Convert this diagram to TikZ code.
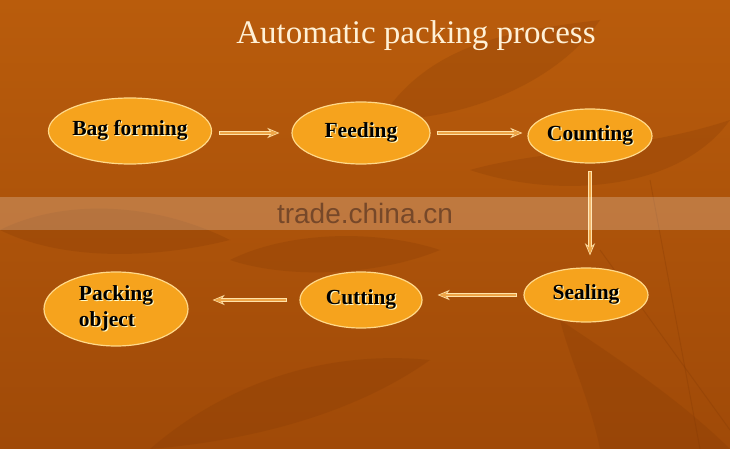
\documentclass[tikz,border=0pt]{standalone}
\usepackage{fontspec}
\setmainfont{Liberation Serif}
\setsansfont{Liberation Sans}
\usetikzlibrary{shapes.geometric,arrows.meta}
\definecolor{bgbrown}{HTML}{B95C0C}
\definecolor{bgdark}{HTML}{A04A08}
\definecolor{leafdark}{HTML}{7E3604}
\definecolor{stepfill}{HTML}{F6A31D}
\definecolor{steprim}{HTML}{FFD98A}
\definecolor{arrowrim}{HTML}{FFE2A8}
\definecolor{arrowcore}{HTML}{EDA446}
\definecolor{titlecream}{HTML}{FFF1D6}
\definecolor{markgray}{HTML}{6A4026}
% text with a light shadow below right
\newcommand\shtext[1]{\rlap{\hspace{1.1pt}\raisebox{-1.1pt}{\textcolor{white!80!yellow}{#1}}}#1}
\tikzset{
  stage/.style={ellipse, draw=steprim, line width=1.2pt, fill=stepfill, inner sep=0pt,
    font=\bfseries\fontsize{21.5}{26}\selectfont},
  flowrim/.style={line width=4.5pt, draw=arrowrim, -{Stealth[length=12pt,width=10pt]}},
  flowcore/.style={line width=2pt, draw=arrowcore, -{Stealth[length=8pt,width=6pt]}},
  leaf/.style={fill=leafdark, opacity=0.22}
}
\begin{document}
\begin{tikzpicture}[x=1pt,y=-1pt]
  \useasboundingbox (0,0) rectangle (730,449);
  \shade[top color=bgbrown, bottom color=bgdark] (0,0) rectangle (730,449);
  % leaves in the background
  \fill[leaf] (380,120) .. controls (430,40) and (520,30) .. (600,20) .. controls (560,80) and (470,120) .. (380,120);
  \fill[leaf] (470,170) .. controls (540,150) and (640,150) .. (730,120) .. controls (680,190) and (560,200) .. (470,170);
  \fill[leaf] (0,230) .. controls (60,200) and (150,200) .. (230,240) .. controls (150,260) and (60,260) .. (0,230);
  \fill[leaf] (230,260) .. controls (290,230) and (380,230) .. (440,250) .. controls (380,275) and (290,280) .. (230,260);
  \fill[leaf] (150,449) .. controls (230,380) and (330,350) .. (430,360) .. controls (360,410) and (260,440) .. (150,449);
  \fill[leaf] (560,320) .. controls (620,360) and (680,400) .. (730,449) -- (600,449) .. controls (590,400) and (570,360) .. (560,320);
  \draw[leafdark, opacity=0.25, line width=1pt] (600,250) -- (730,430);
  \draw[leafdark, opacity=0.25, line width=1pt] (650,180) -- (700,449);

  \node[text=titlecream, font=\fontsize{33}{38}\selectfont] (title) at (416,36) {Automatic packing process};

  \node[stage, minimum width=150pt, minimum height=66pt] (bag) at (130,131) {\shtext{Bag forming}};
  \node[stage, minimum width=138pt, minimum height=62pt] (feed) at (361,133) {\shtext{Feeding}};
  \node[stage, minimum width=124pt, minimum height=54pt] (count) at (590,136) {\shtext{Counting}};
  \node[stage, minimum width=124pt, minimum height=54pt] (seal) at (586,295) {\shtext{Sealing}};
  \node[stage, minimum width=122pt, minimum height=56pt] (cut) at (361,300) {\shtext{Cutting}};
  \node[stage, minimum width=144pt, minimum height=74pt, align=left] (pack) at (116,309)
    {\shtext{Packing}\\\shtext{object}};

  \draw[flowrim, shorten <=7pt, shorten >=12pt] (bag.east |- feed) -- (feed.west);
  \draw[flowcore, shorten <=8pt, shorten >=13.5pt] (bag.east |- feed) -- (feed.west);
  \draw[flowrim, shorten <=6pt, shorten >=5pt] (feed.east) -- (feed.east -| count.west);
  \draw[flowcore, shorten <=7pt, shorten >=6.5pt] (feed.east) -- (feed.east -| count.west);
  \draw[flowrim, shorten <=7pt, shorten >=12pt] (count.south) -- (count.south |- seal.north);
  \draw[flowcore, shorten <=8pt, shorten >=13.5pt] (count.south) -- (count.south |- seal.north);
  \draw[flowrim, shorten <=6pt, shorten >=15pt] (seal.west) -- (seal.west -| cut.east);
  \draw[flowcore, shorten <=7pt, shorten >=16.5pt] (seal.west) -- (seal.west -| cut.east);
  \draw[flowrim, shorten <=12pt, shorten >=24pt] (cut.west) -- (cut.west -| pack.east);
  \draw[flowcore, shorten <=13pt, shorten >=25.5pt] (cut.west) -- (cut.west -| pack.east);

  % watermark band
  \fill[white, opacity=0.22] (0,197) rectangle (730,230);
  \node[text=markgray, opacity=0.85, font=\sffamily\fontsize{28}{32}\selectfont] (mark) at (365,213) {trade.china.cn};
\end{tikzpicture}
\end{document}
